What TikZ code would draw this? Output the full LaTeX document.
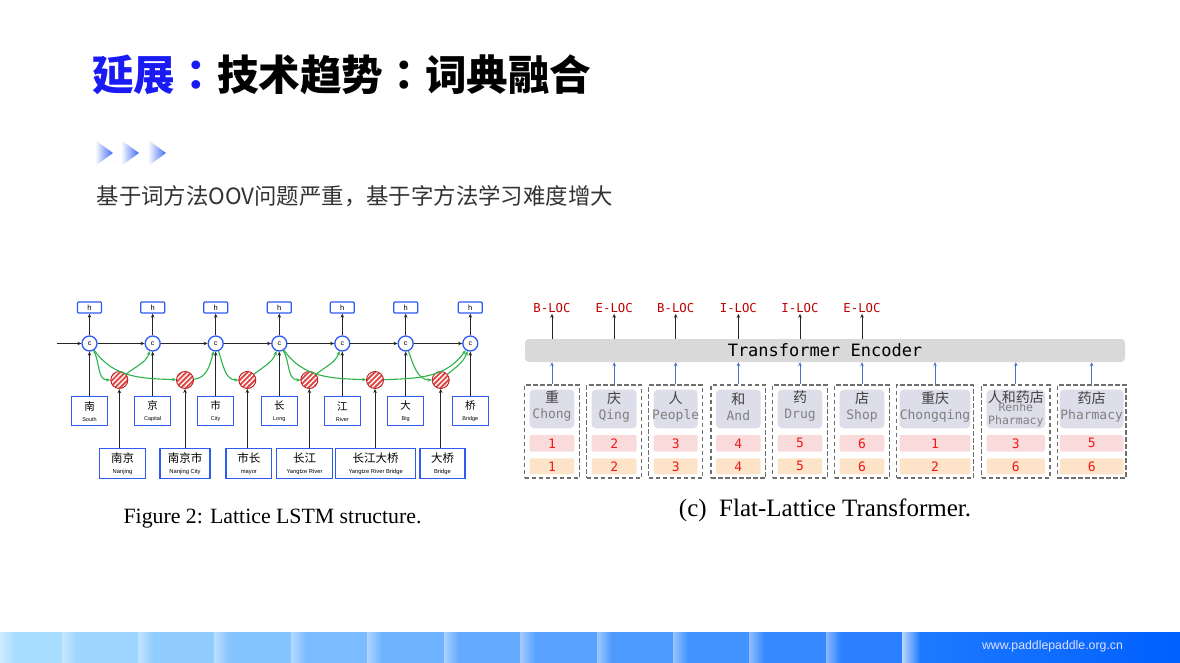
\documentclass[tikz,border=0pt]{standalone}
\usepackage{fontspec}
\setmainfont{Liberation Serif}
\newfontfamily\cjk{Noto Sans CJK SC}
\newfontfamily\cjktc{Noto Sans CJK TC}
\newfontfamily\mono{DejaVu Sans Mono}
\newfontfamily\sans{Liberation Sans}
\usetikzlibrary{arrows.meta,patterns.meta,calc}
\definecolor{titleblue}{HTML}{1A1AF5}
\definecolor{subgray}{HTML}{333333}
\definecolor{chev}{HTML}{3D6BF5}
\definecolor{stripA}{HTML}{A8DDFF}
\definecolor{stripB}{HTML}{2A80FF}
\definecolor{stripC}{HTML}{1F7BFF}
\definecolor{stripD}{HTML}{0060FF}
\definecolor{lblue}{HTML}{2F5CF0}
\definecolor{lgreen}{HTML}{2DB34A}
\definecolor{redc}{HTML}{C02020}
\definecolor{redfill}{HTML}{E04848}
\definecolor{labred}{HTML}{C00000}
\definecolor{numred}{HTML}{F01818}
\definecolor{encgray}{HTML}{D9D9D9}
\definecolor{dashgray}{HTML}{6F6F6F}
\definecolor{lav}{HTML}{DEDEEB}
\definecolor{pinkb}{HTML}{FADBDB}
\definecolor{orab}{HTML}{FDE4C9}
\definecolor{arrblue}{HTML}{4472C4}
\definecolor{chardark}{HTML}{3F3F3F}
\definecolor{pygray}{HTML}{808080}
\tikzset{
  blk/.style={draw=black!85, line width=1pt, -{Stealth[length=4pt,width=3.5pt]}},
  grn/.style={draw=lgreen, line width=1.1pt, -{Stealth[length=4pt,width=3.5pt]}},
  barr/.style={draw=arrblue, line width=1pt, -{Stealth[length=4pt,width=3.5pt]}},
  cnode/.style={circle, draw=lblue, line width=1.3pt, fill=white, minimum size=15pt, inner sep=0pt, font=\sans\fontsize{7}{8}\selectfont},
  hbox/.style={rectangle, rounded corners=1pt, draw=lblue, line width=1.3pt, fill=white, minimum width=24pt, minimum height=11pt, inner sep=0pt, font=\sans\fontsize{7.5}{8}\selectfont},
  tbox/.style={rectangle, draw=lblue, line width=1.3pt, fill=white, inner sep=0pt, minimum width=36pt, minimum height=29pt, align=center},
  lbox/.style={rectangle, draw=lblue, line width=1.3pt, fill=white, inner sep=0pt, minimum height=30pt, align=center},
  rnode/.style={circle, draw=redc, line width=0.9pt, minimum size=17pt, inner sep=0pt, preaction={fill=redfill}, pattern={Lines[angle=45,distance=3.6pt,line width=1.4pt]}, pattern color=white},
  dbox/.style={rectangle, draw=dashgray, dash pattern=on 4.5pt off 2.5pt, line width=1.3pt, inner sep=0pt, minimum height=93pt},
  lavbox/.style={rectangle, rounded corners=4pt, fill=lav, inner sep=0pt, minimum height=38.6pt, align=center, font=\fontsize{13}{16}\selectfont},
  pkbox/.style={rectangle, rounded corners=2pt, fill=pinkb, inner sep=0pt, minimum height=16.7pt, text=numred, font=\mono\fontsize{13}{14}\selectfont},
  orbox/.style={rectangle, rounded corners=2pt, fill=orab, inner sep=0pt, minimum height=16pt, text=numred, font=\mono\fontsize{13}{14}\selectfont},
  tag/.style={inner sep=1pt, text=labred, font=\mono\fontsize{12.3}{13}\selectfont},
}
\begin{document}
\begin{tikzpicture}[x=1pt,y=-1pt]
\useasboundingbox (0,0) rectangle (1180,663);
\fill[white] (0,0) rectangle (1180,663);

% title
\node[anchor=west, inner sep=0pt] (title) at (92,75) {\cjk\bfseries\fontsize{41.6}{45}\selectfont\textcolor{titleblue}{延展{\cjktc ：}}技术趋势{\cjktc ：}词典融合};

% chevrons
\foreach \t in {113,139,166}{
  \shade[left color=white, right color=chev] ({\t-18},140) -- (\t,153) -- ({\t-18},166) -- cycle;
}

% subtitle
\node[anchor=west, inner sep=0pt, text=subgray] (sub) at (96.5,196) {\cjk\fontsize{22.4}{25}\selectfont 基于词方法OOV问题严重，基于字方法学习难度增大};

% bottom strip
\foreach \a/\b [count=\i] in {0/62,62/138,138/214,214/291,291/367,367/444,444/520,520/597,597/673,673/749,749/826,826/902}{
  \pgfmathtruncatemacro\p{(\i-1)*100/11}
  \colorlet{segc}{stripB!\p!stripA}
  \fill[segc] (\a,632) rectangle (\b,663);
  \shade[left color=segc!55!white, right color=segc] (\a,632) rectangle ({\a+15},663);
}
\shade[left color=stripC, right color=stripD] (902,632) rectangle (1180,663);
\shade[left color=stripC!30!white, right color=stripC] (902,632) rectangle (920,663);
\node[text=white!88!blue, inner sep=0pt] (url) at (1052.5,646) {\sans\fontsize{12.3}{13}\selectfont www.paddlepaddle.org.cn};

% ---------------- Lattice LSTM ----------------
\foreach \x [count=\i] in {89.5,152.7,215.7,279.3,342.3,405.7,470.3}{
  \node[cnode] (c\i) at (\x,343.5) {c};
  \node[hbox] (h\i) at (\x,307.5) {h};
  \draw[blk] (c\i) -- (h\i);
}
\coordinate (cin) at (57,343.5);
\draw[blk] (cin) -- (c1);
\foreach \i [evaluate=\i as \j using int(\i+1)] in {1,...,6}{
  \draw[blk] (c\i) -- (c\j);
}
\foreach \x/\z/\e [count=\i] in {89.5/南/South,152.7/京/Capital,215.7/市/City,279.3/长/Long,342.3/江/River,405.7/大/Big,470.3/桥/Bridge}{
  \node[tbox] (t\i) at (\x,411.3) {{\cjk\fontsize{10.5}{11}\selectfont \z}\\[-1pt]{\sans\fontsize{5.5}{6}\selectfont \e}};
  \draw[blk] (t\i) -- (c\i);
}
\foreach \x [count=\i] in {119.3,185,247.3,309.3,375,440.7}{
  \node[rnode] (r\i) at (\x,380) {};
}
\foreach \a/\b/\z/\e [count=\i] in {99.3/145.7/南京/Nanjing,160/210/南京市/Nanjing City,226/271.7/市长/mayor,276.7/332.3/长江/Yangtze River,335.7/415.7/长江大桥/Yangtze River Bridge,420/465/大桥/Bridge}{
  \node[lbox, minimum width={\b-\a}] (l\i) at ({(\a+\b)/2},463.7) {{\cjk\fontsize{11.5}{12}\selectfont \z}\\[-1pt]{\sans\fontsize{5.8}{6}\selectfont \e}};
  \draw[blk] (l\i.north -| r\i) -- (r\i);
}
% green lattice paths
\draw[grn] (c1) to[out=-60,in=180] (r1);
\draw[grn] (r1) to[out=40,in=-110] (c2);
\draw[grn] (c1) to[out=-55,in=178] (r2);
\draw[grn] (r2) to[out=5,in=-105] (c3);
\draw[grn] (c3) to[out=-70,in=180] (r3);
\draw[grn] (r3) to[out=40,in=-110] (c4);
\draw[grn] (c4) to[out=-60,in=180] (r4);
\draw[grn] (r4) to[out=40,in=-110] (c5);
\draw[grn] (c4) to[out=-55,in=178] (r5);
\draw[grn] (r5) to[out=2,in=-125] (c7);
\draw[grn] (c6) to[out=-70,in=180] (r6);
\draw[grn] (r6) to[out=40,in=-110] (c7);

\node[inner sep=0pt] (cap1) at (272.5,518.5) {\fontsize{21.8}{24}\selectfont Figure 2: Lattice LSTM structure.};

% ---------------- Flat-Lattice Transformer ----------------
\node[rectangle, rounded corners=4pt, fill=encgray, minimum width=600pt, minimum height=23pt, inner sep=0pt] (enc) at (825,350.5) {\mono\fontsize{17}{18}\selectfont Transformer Encoder};

\foreach \a/\b/\s/\n/\m [count=\i] in {524.7/579.3/5/1/1,586.7/641.7/5/2/2,648.7/702.7/5/3/3,711/765.7/5/4/4,772.7/827.3/5/5/5,834.7/889.3/5/6/6,896.7/973.3/3/1/2,981.7/1050/5/3/6,1057.3/1126/2.5/5/6}{
  \node[dbox, minimum width={\b-\a}] (d\i) at ({(\a+\b)/2},431.5) {};
  \node[lavbox, minimum width={\b-\a-2*\s}] (v\i) at ({(\a+\b)/2},409) {};
  \node[pkbox, minimum width={\b-\a-2*\s}] (p\i) at ({(\a+\b)/2},443.3) {\n};
  \node[orbox, minimum width={\b-\a-2*\s}] (o\i) at ({(\a+\b)/2},466.3) {\m};
  \draw[barr] (d\i.north) -- (d\i.north |- enc.south);
}
\foreach \i/\z/\py in {1/重/Chong,2/庆/Qing,3/人/People,4/和/And,5/药/Drug,6/店/Shop,7/重庆/Chongqing,9/药店/Pharmacy}{
  \node[inner sep=0pt, align=center, font=\fontsize{13}{16}\selectfont] (w\i) at ($(v\i.center)+(0,-2.5)$) {{\cjk\fontsize{14}{16}\selectfont\color{chardark}\z}\\{\mono\color{pygray}\py}};
}
\node[inner sep=0pt, align=center] (w8) at ($(v8.center)+(0,-0.5)$) {{\cjk\fontsize{14}{15}\selectfont\color{chardark}人和药店}\\[-3pt]{\mono\fontsize{11.5}{13}\selectfont\color{pygray}Renhe}\\[1pt]{\mono\fontsize{11.5}{13}\selectfont\color{pygray}Pharmacy}};

\foreach \i/\t in {1/B-LOC,2/E-LOC,3/B-LOC,4/I-LOC,5/I-LOC,6/E-LOC}{
  \node[tag] (y\i) at (d\i.center |- 0,308) {\t};
  \draw[blk] (enc.north -| y\i) -- (y\i.south);
}

\node[inner sep=0pt] (cap2) at (825,510) {\fontsize{25}{28}\selectfont (c)\ \ Flat-Lattice Transformer.};
\end{tikzpicture}
\end{document}
